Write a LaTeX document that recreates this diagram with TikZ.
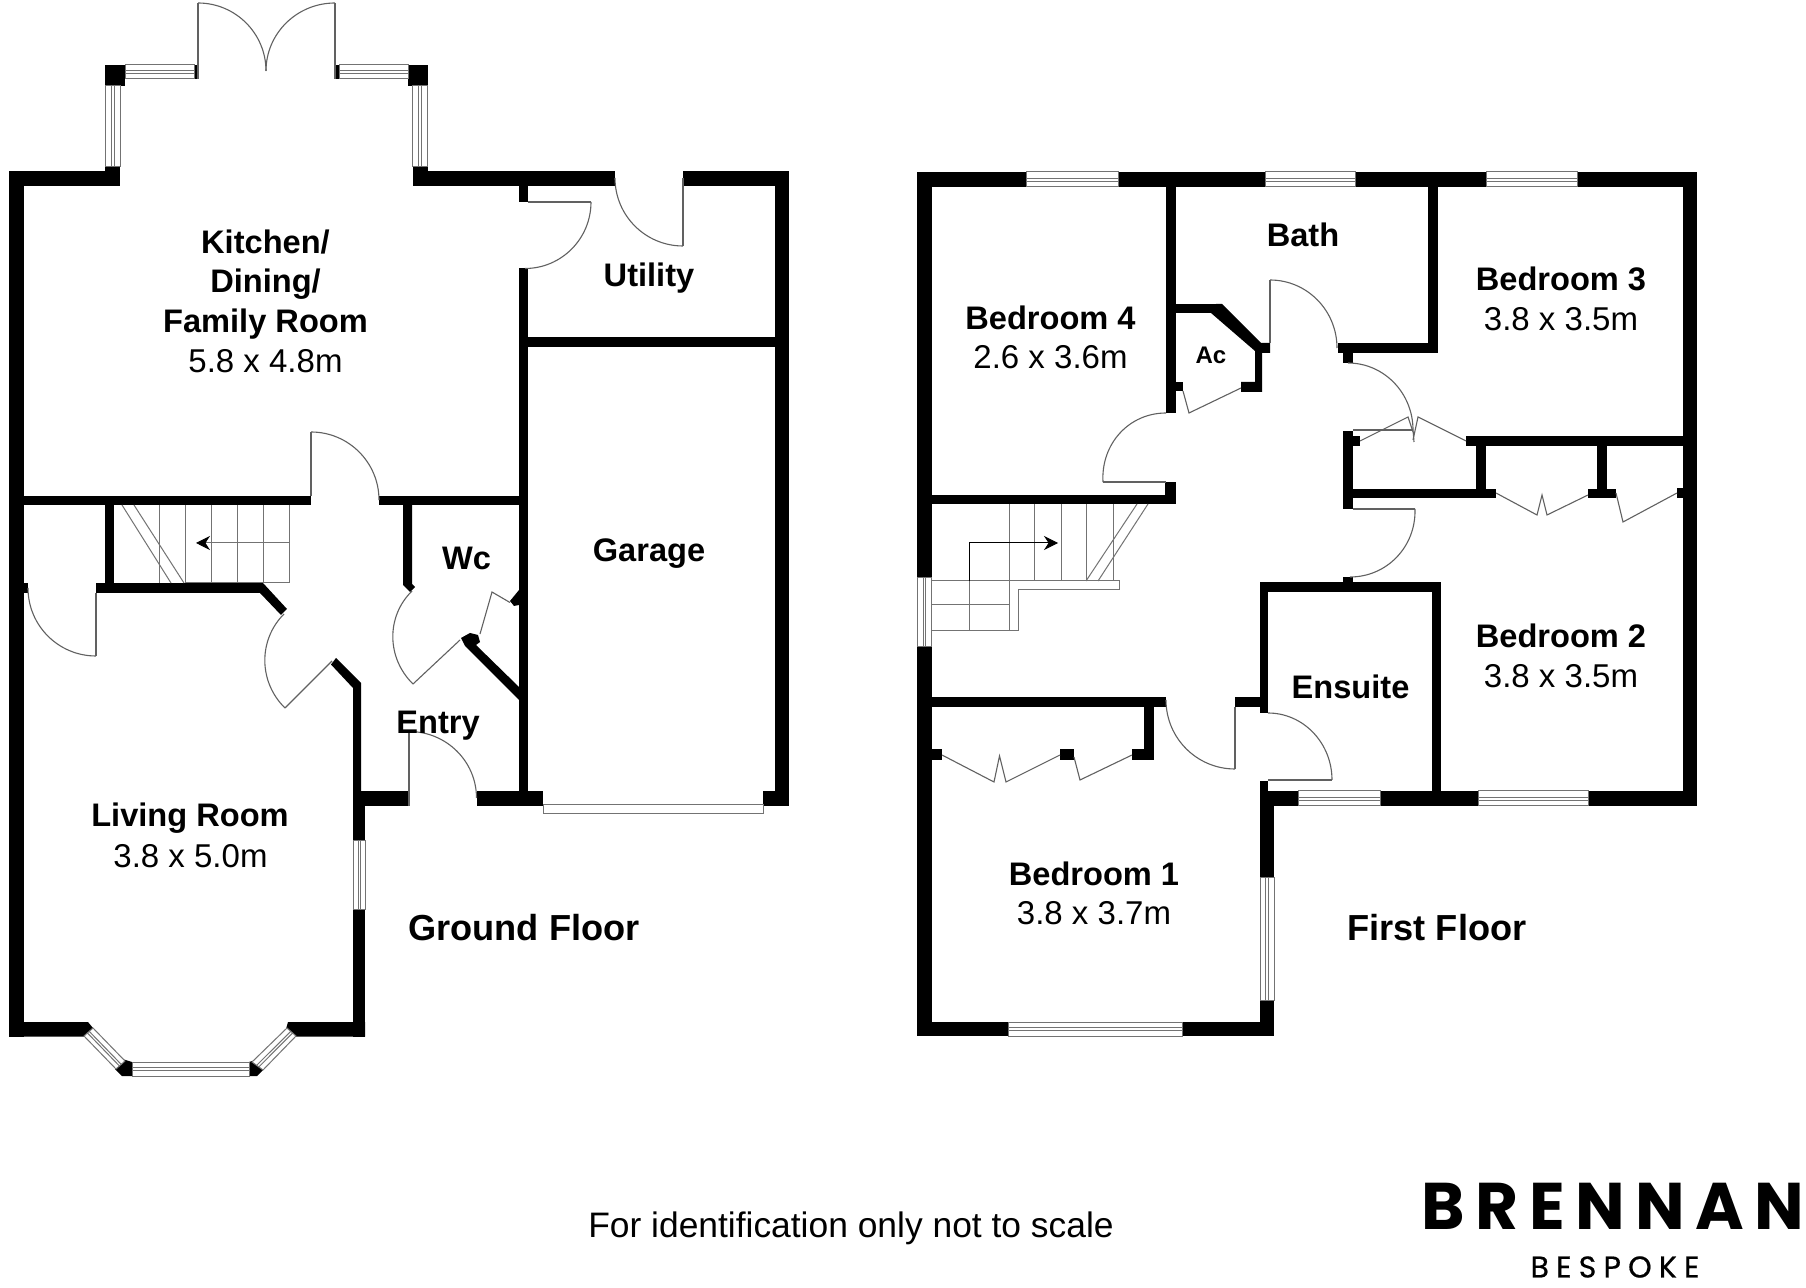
\documentclass[tikz,border=0pt]{standalone}
\usepackage{fontspec}
\setmainfont{Liberation Sans}
\newfontfamily\brandfont[LetterSpace=16]{Poppins}
\newfontfamily\brandsmall[LetterSpace=24,FakeBold=0.6]{Poppins}
\usetikzlibrary{calc,arrows.meta}
\tikzset{
  wallfill/.style={fill=black,draw=none},
  doorline/.style={draw=black!62,line width=0.55pt},
  stairline/.style={draw=black!55,line width=0.5pt},
  winline/.style={draw=black!55,line width=0.5pt,fill=white},
  roomlabel/.style={font=\fontsize{16.3}{18}\selectfont\bfseries,inner sep=0pt,anchor=center},
  roomsize/.style={font=\fontsize{16.5}{18}\selectfont,inner sep=0pt,anchor=center},
  floorlabel/.style={font=\fontsize{18.1}{20}\selectfont\bfseries,inner sep=0pt,anchor=center}
}
\def\wall#1#2#3#4{\fill[wallfill] (#1,#2) rectangle (#3,#4);}
\def\doorarc#1#2#3#4#5#6{\draw[doorline] (#3,#4) .. controls ({#3+0.5523*(#5-#1)},{#4+0.5523*(#6-#2)}) and ({#5+0.5523*(#3-#1)},{#6+0.5523*(#4-#2)}) .. (#5,#6);}
\def\polywin#1#2#3#4{%
  \draw[winline] (#1) -- (#2) -- (#3) -- (#4) -- cycle;
  \draw[winline,fill=none] ($(#1)!0.42!(#4)$) -- ($(#2)!0.42!(#3)$);
  \draw[winline,fill=none] ($(#1)!0.62!(#4)$) -- ($(#2)!0.62!(#3)$);}
\def\hwin#1#2#3#4{\polywin{#1,#2}{#3,#2}{#3,#4}{#1,#4}}
\def\vwin#1#2#3#4{\polywin{#1,#2}{#1,#4}{#3,#4}{#3,#2}}
\begin{document}
\begin{tikzpicture}[x=0.5pt,y=-0.5pt]
\useasboundingbox (0,0) rectangle (1806,1288);
\fill[white] (0,0) rectangle (1806,1288);
%% ---------- GROUND FLOOR ----------
\wall{9}{171.5}{24}{1036.5}
\wall{9}{171.5}{120}{186.5}
\wall{105}{167}{120}{186.5}
\wall{105}{65}{125}{86}
\wall{408}{65}{427.5}{86}
\wall{412.5}{167}{427.5}{186.5}
\wall{412.5}{171.5}{615}{186.5}
\wall{683}{171.5}{789}{186.5}
\wall{774.5}{171.5}{789}{806}
\wall{763}{791}{789}{806}
\wall{519}{186}{528}{202}
\wall{519}{268.5}{528}{806}
\wall{528}{337.5}{775}{347}
\wall{24}{496}{311}{505}
\wall{379}{496}{519}{505}
\wall{105}{505}{114}{583}
\wall{96}{583}{263}{593}
\wall{24}{583}{28}{593}
\fill[wallfill] (403,505) -- (412,505) -- (412,584) -- (415,587) -- (410,592) -- (403,585) -- cycle;
\fill[wallfill] (260,593) -- (263,583) -- (287,609) -- (281,615) -- cycle;
\fill[wallfill] (336,658) -- (361,683) -- (361,791) -- (353,791) -- (353,688) -- (331,664.5) -- cycle;
\wall{353}{791}{408}{806}
\wall{477}{791}{543}{806}
\wall{353}{806}{365}{1036.5}
\fill[wallfill] (9,1022) -- (88,1022) -- (93,1028) -- (84,1036.5) -- (9,1036.5) -- cycle;
\fill[wallfill] (288,1022) -- (365,1022) -- (365,1036.5) -- (296,1036.5) -- (286,1029) -- cycle;
\fill[wallfill] (124,1059.5) -- (132,1062) -- (132,1076) -- (122,1076) -- (115,1069) -- cycle;
\fill[wallfill] (249,1062) -- (257,1059.5) -- (264,1069) -- (257,1076) -- (249,1076) -- cycle;
\fill[wallfill] (461,638) -- (470,633) -- (478,635) -- (480,642) -- (476,645) -- (519,687) -- (519,700) -- (465,646) -- cycle;
\fill[wallfill] (519,590) -- (519,605) -- (514,606) -- (510,601) -- cycle;
\wall{194}{65}{198}{79}
\wall{335}{65}{339}{79}
% ground-floor windows
\hwin{125}{65}{194}{79}
\hwin{339}{65}{408}{79}
\vwin{105.5}{86}{120}{167}
\vwin{412.5}{86}{427}{167}
\vwin{353}{840.5}{365}{909.5}
\hwin{132}{1062}{249}{1076}
\polywin{93,1028}{125,1061}{116,1069}{84,1036}
\polywin{287,1028}{252,1062}{263,1070}{296,1036}
\draw[winline] (543,805) rectangle (763,814);
% ground-floor doors
\draw[doorline] (198,3) -- (198,79);
\draw[doorline] (335,3) -- (335,79);
\doorarc{198}{71}{198}{3}{266}{71}
\doorarc{335}{71}{335}{3}{266}{71}
\draw[doorline] (528,202) -- (591,202);
\doorarc{525}{202}{591}{202}{525}{268.5}
\draw[doorline] (683,178) -- (683,246);
\doorarc{683}{178}{615}{178}{683}{246}
\draw[doorline] (311,432) -- (311,496);
\doorarc{311}{500}{311}{432}{379}{500}
\draw[doorline] (96,593) -- (96,656);
\doorarc{96}{588}{28}{588}{96}{656}
\draw[doorline] (332,661) -- (285,708);
\doorarc{332}{661}{285}{708}{284}{614}
\draw[doorline] (409,731.5) -- (409,806);
\doorarc{409}{798}{409}{731.5}{476.5}{798}
\draw[doorline] (460,640) -- (413,684);
\doorarc{460}{638}{413}{684}{412}{591}
\draw[doorline] (480,634) -- (492,592) -- (510,602.5);
% ground-floor stairs
\foreach \sx in {159,185,211,237,263,289}{\draw[stairline] (\sx,505) -- (\sx,583);}
\draw[stairline] (185,583) -- (289,583);
\draw[stairline] (122,505) -- (171,583);
\draw[stairline] (134,505) -- (184,583);
\draw[stairline,-{Stealth[black,length=7pt,width=7pt]}] (289,543) -- (196,543);
% ground-floor labels
\node[roomlabel] (kitchen1) at (265.5,242) {Kitchen/};
\node[roomlabel] (kitchen2) at (265.5,284) {Dining/};
\node[roomlabel] (kitchen3) at (265.5,324) {Family Room};
\node[roomsize] (kitchensize) at (265.5,361) {5.8 x 4.8m};
\node[roomlabel] (utility) at (649,278.5) {Utility};
\node[roomlabel] (garage) at (649,553.5) {Garage};
\node[roomlabel] (wc) at (466.5,558) {Wc};
\node[roomlabel] (entry) at (438,725.5) {Entry};
\node[roomlabel] (living) at (190,818) {Living Room};
\node[roomsize] (livingsize) at (190.5,856) {3.8 x 5.0m};
\node[floorlabel] (ground) at (524,928) {Ground Floor};
%% ---------- FIRST FLOOR ----------
\wall{917}{172}{931.5}{578}
\wall{917}{647}{931.5}{1036}
\wall{917}{172}{1697}{187}
\wall{1683}{172}{1697}{806}
% partitions
\wall{1166}{187}{1175.5}{413}
\wall{1165}{482}{1175.5}{504}
\wall{931.5}{495}{1175.5}{504}
\wall{1428}{187}{1438}{353}
\wall{1338}{343}{1438}{353}
\wall{1343}{353}{1353}{363}
\wall{1175.5}{304}{1218}{313}
\fill[wallfill] (1216,304) -- (1222,304) -- (1261,343) -- (1270,343) -- (1270,353) -- (1262,353) -- (1262,392) -- (1241,382) -- (1255,382) -- (1255,351) -- (1211,313) -- cycle;
\wall{1241}{382}{1262}{392}
\wall{1175.5}{382}{1183}{391}
\wall{1343}{431}{1353}{509}
\wall{1353}{436}{1360}{446}
\wall{1353}{489}{1496}{498}
\wall{1476}{436}{1486}{489}
\wall{1466}{436}{1683}{446}
\wall{1597}{446}{1607}{489}
\wall{1588}{489}{1616}{498}
\wall{1677}{488}{1683}{498}
\wall{1343}{577}{1353}{582}
\wall{1260}{582}{1441}{592}
\wall{1260}{592}{1268}{713}
\wall{1432}{592}{1441}{791}
\wall{1235}{697}{1268}{707}
\wall{932}{697}{1166}{707}
\wall{1144}{707}{1154}{760}
\wall{1132}{749}{1154}{760}
\wall{1060}{749}{1074}{760}
\wall{932}{749}{942}{760}
\wall{1260}{781}{1268}{806}
\wall{1268}{791}{1298}{806}
\wall{1380}{791}{1478}{806}
\wall{1588}{791}{1697}{806}
\wall{1260}{806}{1274}{878}
\wall{1260}{1000}{1274}{1036}
\wall{917}{1022}{1008}{1036}
\wall{1182}{1022}{1274}{1036}
% first-floor windows
\hwin{1026.5}{172}{1118}{187}
\hwin{1265}{172}{1355}{187}
\hwin{1486}{172}{1577.5}{187}
\hwin{1298}{791}{1380}{806}
\hwin{1478}{791}{1588}{806}
\hwin{1008}{1022}{1182}{1036}
\vwin{917}{578}{931.5}{647}
\vwin{1260}{878}{1274}{1000}
% first-floor doors
\draw[doorline] (1103,482) -- (1166,482);
\doorarc{1170}{482}{1166}{413}{1103}{482}
\draw[doorline] (1270,280) -- (1270,343);
\doorarc{1270}{348}{1270}{280}{1337}{348}
\draw[doorline] (1183,391) -- (1189,413) -- (1241,388);
\draw[doorline] (1353,430) -- (1413,430);
\doorarc{1348}{430}{1348}{363}{1413}{430}
\draw[doorline] (1413,430) -- (1414,442);
\draw[doorline] (1360,441) -- (1408,417) -- (1413,432);
\draw[doorline] (1466,441) -- (1418,417) -- (1413,440);
\draw[doorline] (1496,493) -- (1537,515) -- (1542,495) -- (1547,515) -- (1588,495);
\draw[doorline] (1616,493) -- (1623,522) -- (1677,493);
\draw[doorline] (1353,509) -- (1415,509);
\doorarc{1348}{509}{1415}{509}{1350}{577}
\draw[doorline] (942,755) -- (994,782) -- (999.5,756) -- (1006,782) -- (1060,755);
\draw[doorline] (1074,757) -- (1080,780) -- (1132,755);
\draw[doorline] (1235,707) -- (1235,769);
\doorarc{1235}{700}{1166}{700}{1235}{769}
\draw[doorline] (1268,780) -- (1332,780);
\doorarc{1268}{780}{1268}{713}{1332}{780}
% first-floor stairs
\foreach \sx in {1009,1034,1061,1086,1113}{\draw[stairline] (\sx,504) -- (\sx,581);}
\draw[stairline] (931.5,581) -- (1119,581) -- (1119,590) -- (1018,590) -- (1018,631) -- (931.5,631);
\draw[stairline] (1009,581) -- (1009,631);
\draw[stairline] (931.5,605) -- (1009,605);
\draw[stairline] (969,581) -- (969,631);
\draw[stairline] (1086,581) -- (1137,504);
\draw[stairline] (1098,581) -- (1148,504);
\draw[black,line width=0.5pt] (969,581) -- (969,543);
\draw[black,line width=0.5pt,-{Stealth[length=7pt,width=7pt]}] (969,543) -- (1058,543);
% first-floor labels
\node[roomlabel] (bed4) at (1050.5,318) {Bedroom 4};
\node[roomsize] (bed4size) at (1050.5,357) {2.6 x 3.6m};
\node[roomlabel] (bath) at (1303,235) {Bath};
\node[roomlabel] (bed3) at (1561,279) {Bedroom 3};
\node[roomsize] (bed3size) at (1561,319) {3.8 x 3.5m};
\node[roomlabel,font=\fontsize{12}{14}\selectfont\bfseries] (ac) at (1211,355) {Ac};
\node[roomlabel] (bed2) at (1561,636) {Bedroom 2};
\node[roomsize] (bed2size) at (1561,676) {3.8 x 3.5m};
\node[roomlabel] (ensuite) at (1350.5,687) {Ensuite};
\node[roomlabel] (bed1) at (1094,874) {Bedroom 1};
\node[roomsize] (bed1size) at (1094,913) {3.8 x 3.7m};
\node[floorlabel] (first) at (1437,928) {First Floor};
%% ---------- FOOTER ----------
\node[inner sep=0pt,font=\fontsize{17.7}{20}\selectfont] (note) at (851,1228.5) {For identification only not to scale};
\node[inner sep=0pt,anchor=west,font=\brandfont\fontsize{33}{36}\selectfont\bfseries] (brand) at (1421,1206) {BRENNAN};
\node[inner sep=0pt,font=\brandsmall\fontsize{15}{18}\selectfont] (bespoke) at (1615,1267) {BESPOKE};
\end{tikzpicture}
\end{document}
